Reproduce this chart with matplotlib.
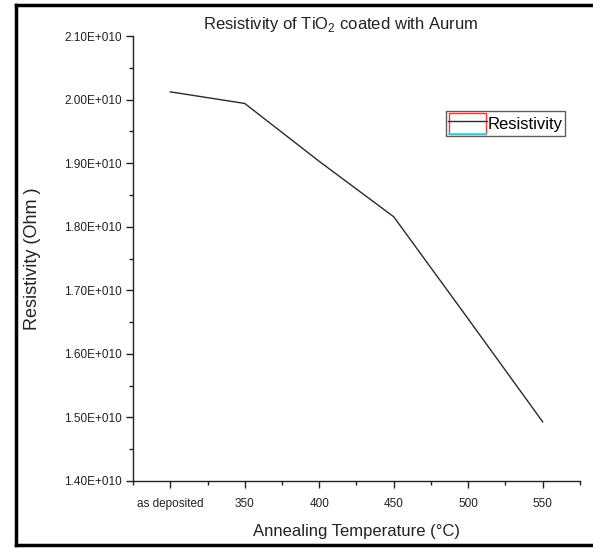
import matplotlib
matplotlib.use("Agg")
import matplotlib.pyplot as plt
from matplotlib.lines import Line2D
from matplotlib.patches import Rectangle
from matplotlib.legend_handler import HandlerLine2D
from matplotlib.ticker import MultipleLocator, FuncFormatter

# annealing temperature (300 = as deposited) and resistivity in ohm
temps = [300, 350, 400, 450, 500, 550]
resistivity = [2.0124e10, 1.9941e10, 1.903e10, 1.8158e10, 1.655e10, 1.493e10]
xtick_vals = [300, 350, 400, 450, 500, 550]
xtick_labels = ["as deposited", "350", "400", "450", "500", "550"]

plt.rcParams['font.family'] = ['Liberation Sans', 'DejaVu Sans']


class BoxedLine(HandlerLine2D):
	"""legend key drawn as a line inside a red box with a cyan underline"""
	def create_artists(self, legend, orig, xd, yd, w, h, fontsize, trans):
		arts = super().create_artists(legend, orig, xd, yd, w, h, fontsize, trans)
		box = Rectangle((-xd + 1, -yd), w - 2, h, fill=False,
			edgecolor='#ff3030', lw=1.0, transform=trans)
		under = Line2D([-xd + 1, -xd + w - 1], [-yd, -yd],
			color='#00f0f0', lw=1.2, transform=trans)
		return [box, under] + arts


fig = plt.figure(figsize=(5.93, 5.48), dpi=100)
ax = fig.add_axes([0.2243, 0.1223, 0.7537, 0.8117])

line, = ax.plot(temps, resistivity, color='#2a2a2a', lw=1.0, label='Resistivity')

ax.set_xlim(275, 575)
ax.set_ylim(1.4e10, 2.1e10)
ax.xaxis.set_major_locator(MultipleLocator(50))
ax.xaxis.set_minor_locator(MultipleLocator(25))
ax.yaxis.set_major_locator(MultipleLocator(0.1e10))
ax.yaxis.set_minor_locator(MultipleLocator(0.05e10))
ax.set_xticks(xtick_vals)
ax.set_xticklabels(xtick_labels)
ax.yaxis.set_major_formatter(FuncFormatter(lambda v, p: "%.2fE+010" % (v / 1e10)))

for s in ['top', 'right']:
	ax.spines[s].set_visible(False)
for s in ['left', 'bottom']:
	ax.spines[s].set_linewidth(1.0)
	ax.spines[s].set_color('#222222')
ax.tick_params(which='major', direction='out', length=5, width=1, labelsize=8.5,
	colors='#222222', pad=3)
ax.tick_params(which='minor', direction='out', length=3, width=1, colors='#222222')
ax.tick_params(axis='x', pad=7)

ax.set_title(r"Resistivity of TiO$_\mathregular{2}$ coated with Aurum",
	fontsize=12, x=0.465, pad=5, color='#222222')
ax.set_xlabel("Annealing Temperature (°C)", fontsize=12,
	color='#222222', labelpad=10)
ax.set_ylabel("Resistivity (Ohm )", fontsize=13, color='#222222', labelpad=17)

leg = ax.legend(handles=[line], loc='upper left', bbox_to_anchor=(0.70, 0.832),
	handler_map={line: BoxedLine()}, fontsize=12, frameon=True, fancybox=False,
	borderpad=0.12, handlelength=2.35, handleheight=1.6, handletextpad=0.05,
	borderaxespad=0)
leg.get_frame().set_edgecolor('#333333')
leg.get_frame().set_linewidth(1.0)

# outer border of the figure
fig.add_artist(Line2D([16/593, 16/593], [3/548, 543/548], color='black', lw=2.5,
	transform=fig.transFigure))
fig.add_artist(Line2D([16/593, 1], [543/548, 543/548], color='black', lw=2.5,
	transform=fig.transFigure))
fig.add_artist(Line2D([16/593, 1], [3/548, 3/548], color='black', lw=2.5,
	transform=fig.transFigure))

fig.savefig("out.png", dpi=100)
